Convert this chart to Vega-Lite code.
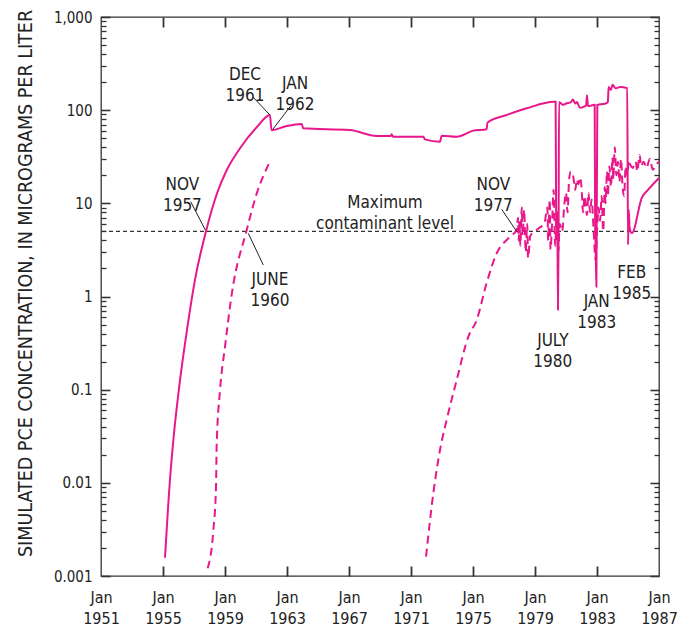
{
  "$schema": "https://vega.github.io/schema/vega-lite/v6.json",
  "autosize": "none",
  "width": 558,
  "height": 559,
  "padding": {"left": 101, "top": 17, "right": 29, "bottom": 51},
  "background": "white",
  "config": {
    "font": "DejaVu Sans Condensed, Roboto, sans-serif",
    "view": {"stroke": "#333", "strokeWidth": 1.3},
    "axis": {"grid": false, "domain": false, "tickColor": "#333", "labelColor": "#222", "titleColor": "#222", "labelFont": "DejaVu Sans Condensed, Roboto, sans-serif", "titleFont": "DejaVu Sans Condensed, Roboto, sans-serif", "tickWidth": 1.5}
  },
  "datasets": {
    "solid": [
      {"t": 1955.13, "c": 0.00157}, {"t": 1955.45, "c": 0.0108}, {"t": 1955.67, "c": 0.029}, {"t": 1956.1, "c": 0.127},
      {"t": 1956.55, "c": 0.44}, {"t": 1957.06, "c": 1.5}, {"t": 1957.77, "c": 5.0}, {"t": 1958.5, "c": 13},
      {"t": 1959.1, "c": 22.5}, {"t": 1959.97, "c": 39}, {"t": 1961.06, "c": 66}, {"t": 1961.9, "c": 89},
      {"t": 1962.0, "c": 61}, {"t": 1962.98, "c": 67.6}, {"t": 1963.95, "c": 71.1}, {"t": 1964.05, "c": 63.8},
      {"t": 1967.06, "c": 61.2}, {"t": 1968.79, "c": 52.9}, {"t": 1969.7, "c": 52.9}, {"t": 1969.75, "c": 55},
      {"t": 1969.85, "c": 52}, {"t": 1971.8, "c": 51.9}, {"t": 1971.9, "c": 48.6}, {"t": 1972.87, "c": 45.9},
      {"t": 1972.98, "c": 53.2}, {"t": 1973.95, "c": 51.9}, {"t": 1975.02, "c": 60.3}, {"t": 1975.88, "c": 62.4},
      {"t": 1975.93, "c": 73.4}, {"t": 1977.17, "c": 88.7}, {"t": 1978.46, "c": 104.7}, {"t": 1980.23, "c": 123},
      {"t": 1980.33, "c": 123}, {"t": 1980.36, "c": 10}, {"t": 1980.4, "c": 4}, {"t": 1980.44, "c": 8},
      {"t": 1980.48, "c": 0.72}, {"t": 1980.52, "c": 4}, {"t": 1980.55, "c": 122}, {"t": 1980.81, "c": 114},
      {"t": 1981.0, "c": 118}, {"t": 1981.3, "c": 121}, {"t": 1981.45, "c": 130}, {"t": 1981.6, "c": 118},
      {"t": 1981.71, "c": 122}, {"t": 1981.9, "c": 106}, {"t": 1982.1, "c": 108}, {"t": 1982.3, "c": 112},
      {"t": 1982.35, "c": 145}, {"t": 1982.42, "c": 111}, {"t": 1982.85, "c": 114}, {"t": 1982.88, "c": 6},
      {"t": 1982.92, "c": 3}, {"t": 1982.96, "c": 1.27}, {"t": 1983.02, "c": 114}, {"t": 1983.5, "c": 117},
      {"t": 1983.7, "c": 122}, {"t": 1983.75, "c": 177}, {"t": 1983.9, "c": 165}, {"t": 1984.0, "c": 187},
      {"t": 1984.2, "c": 172}, {"t": 1984.5, "c": 177}, {"t": 1984.95, "c": 172}, {"t": 1985.0, "c": 3.6},
      {"t": 1985.05, "c": 8.5}, {"t": 1985.1, "c": 5.5}, {"t": 1985.25, "c": 4.8}, {"t": 1985.9, "c": 11.6},
      {"t": 1986.3, "c": 14}, {"t": 1987.0, "c": 18.7}
    ],
    "dashed": [
      {"seg": 1, "t": 1957.88, "c": 0.00121}, {"seg": 1, "t": 1958.25, "c": 0.00312}, {"seg": 1, "t": 1958.42, "c": 0.0091},
      {"seg": 1, "t": 1958.46, "c": 0.0244}, {"seg": 1, "t": 1958.68, "c": 0.0993}, {"seg": 1, "t": 1959.0, "c": 0.289},
      {"seg": 1, "t": 1959.45, "c": 1.1}, {"seg": 1, "t": 1960.4, "c": 5.17}, {"seg": 1, "t": 1961.05, "c": 12.8},
      {"seg": 1, "t": 1961.9, "c": 28},
      {"seg": 2, "t": 1971.97, "c": 0.00161}, {"seg": 2, "t": 1972.44, "c": 0.00773}, {"seg": 2, "t": 1972.76, "c": 0.0176},
      {"seg": 2, "t": 1972.87, "c": 0.0225}, {"seg": 2, "t": 1973.3, "c": 0.0473}, {"seg": 2, "t": 1973.95, "c": 0.127},
      {"seg": 2, "t": 1974.7, "c": 0.371}, {"seg": 2, "t": 1975.24, "c": 0.56}, {"seg": 2, "t": 1975.88, "c": 1.4},
      {"seg": 2, "t": 1976.53, "c": 2.91}, {"seg": 2, "t": 1977.39, "c": 4.39}, {"seg": 2, "t": 1977.82, "c": 5.2},
      {"seg": 2, "t": 1977.9, "c": 7.0}, {"seg": 2, "t": 1977.95, "c": 4.0}, {"seg": 2, "t": 1978.0, "c": 6.5},
      {"seg": 2, "t": 1978.05, "c": 3.5}, {"seg": 2, "t": 1978.15, "c": 9.0}, {"seg": 2, "t": 1978.2, "c": 4.5},
      {"seg": 2, "t": 1978.3, "c": 8.5}, {"seg": 2, "t": 1978.4, "c": 3.0}, {"seg": 2, "t": 1978.5, "c": 6.0},
      {"seg": 2, "t": 1978.55, "c": 2.6}, {"seg": 2, "t": 1978.7, "c": 4.5}, {"seg": 2, "t": 1979.0, "c": 5.0},
      {"seg": 2, "t": 1979.3, "c": 5.5}, {"seg": 2, "t": 1979.6, "c": 6.0}, {"seg": 2, "t": 1979.8, "c": 9.0},
      {"seg": 2, "t": 1979.85, "c": 4.0}, {"seg": 2, "t": 1979.95, "c": 11.0}, {"seg": 2, "t": 1980.0, "c": 3.2},
      {"seg": 2, "t": 1980.1, "c": 6.0}, {"seg": 2, "t": 1980.2, "c": 14.0}, {"seg": 2, "t": 1980.3, "c": 3.5},
      {"seg": 2, "t": 1980.4, "c": 8.0}, {"seg": 2, "t": 1980.5, "c": 3.0}, {"seg": 2, "t": 1980.6, "c": 6.0},
      {"seg": 2, "t": 1980.75, "c": 5.0}, {"seg": 2, "t": 1980.9, "c": 10.0}, {"seg": 2, "t": 1981.0, "c": 13.0},
      {"seg": 2, "t": 1981.1, "c": 8.0}, {"seg": 2, "t": 1981.2, "c": 18.0}, {"seg": 2, "t": 1981.3, "c": 22.0},
      {"seg": 2, "t": 1981.45, "c": 20.0}, {"seg": 2, "t": 1981.6, "c": 14.0}, {"seg": 2, "t": 1981.7, "c": 18.0},
      {"seg": 2, "t": 1981.8, "c": 16.0}, {"seg": 2, "t": 1981.9, "c": 19.0}, {"seg": 2, "t": 1982.0, "c": 15.0},
      {"seg": 2, "t": 1982.1, "c": 8.0}, {"seg": 2, "t": 1982.2, "c": 12.0}, {"seg": 2, "t": 1982.35, "c": 7.5},
      {"seg": 2, "t": 1982.45, "c": 13.0}, {"seg": 2, "t": 1982.55, "c": 8.0}, {"seg": 2, "t": 1982.65, "c": 11.0},
      {"seg": 2, "t": 1982.8, "c": 4.5}, {"seg": 2, "t": 1982.9, "c": 2.5}, {"seg": 2, "t": 1983.0, "c": 5.0},
      {"seg": 2, "t": 1983.1, "c": 9.0}, {"seg": 2, "t": 1983.2, "c": 6.5}, {"seg": 2, "t": 1983.3, "c": 12.0},
      {"seg": 2, "t": 1983.4, "c": 5.0}, {"seg": 2, "t": 1983.5, "c": 15.0}, {"seg": 2, "t": 1983.55, "c": 10.0},
      {"seg": 2, "t": 1983.65, "c": 22.0}, {"seg": 2, "t": 1983.7, "c": 12.0}, {"seg": 2, "t": 1983.8, "c": 25.0},
      {"seg": 2, "t": 1983.9, "c": 15.0}, {"seg": 2, "t": 1984.0, "c": 31.0}, {"seg": 2, "t": 1984.05, "c": 18.0},
      {"seg": 2, "t": 1984.15, "c": 40.0}, {"seg": 2, "t": 1984.25, "c": 20.0}, {"seg": 2, "t": 1984.35, "c": 28.0},
      {"seg": 2, "t": 1984.45, "c": 17.0}, {"seg": 2, "t": 1984.55, "c": 30.0}, {"seg": 2, "t": 1984.65, "c": 15.0},
      {"seg": 2, "t": 1984.75, "c": 12.0}, {"seg": 2, "t": 1984.85, "c": 25.0}, {"seg": 2, "t": 1984.95, "c": 20.0},
      {"seg": 2, "t": 1985.05, "c": 29.0}, {"seg": 2, "t": 1985.15, "c": 26.0}, {"seg": 2, "t": 1985.3, "c": 24.0},
      {"seg": 2, "t": 1985.5, "c": 28.0}, {"seg": 2, "t": 1985.6, "c": 22.0}, {"seg": 2, "t": 1985.75, "c": 33.0},
      {"seg": 2, "t": 1985.85, "c": 25.0}, {"seg": 2, "t": 1986.0, "c": 28.0}, {"seg": 2, "t": 1986.2, "c": 24.0},
      {"seg": 2, "t": 1986.4, "c": 30.0}, {"seg": 2, "t": 1986.6, "c": 23.0}, {"seg": 2, "t": 1986.8, "c": 26.0},
      {"seg": 2, "t": 1987.0, "c": 28.0}
    ],
    "leaders": [
      {"t": 1960.81, "c": 138, "t2": 1961.9, "c2": 88.7},
      {"t": 1963.24, "c": 111, "t2": 1962.08, "c2": 62.2},
      {"t": 1956.79, "c": 10.4, "t2": 1957.73, "c2": 5.17},
      {"t": 1961.47, "c": 2.18, "t2": 1960.5, "c2": 4.77},
      {"t": 1976.85, "c": 8.63, "t2": 1977.82, "c2": 4.97}
    ],
    "labels": [
      {"t": 1960.29, "c": 241, "label": "DEC\n1961"},
      {"t": 1963.52, "c": 193, "label": "JAN\n1962"},
      {"t": 1956.25, "c": 15.7, "label": "NOV\n1957"},
      {"t": 1961.9, "c": 1.52, "label": "JUNE\n1960"},
      {"t": 1969.32, "c": 10.1, "label": "Maximum\ncontaminant level"},
      {"t": 1976.31, "c": 15.7, "label": "NOV\n1977"},
      {"t": 1980.15, "c": 0.337, "label": "JULY\n1980"},
      {"t": 1982.98, "c": 0.863, "label": "JAN\n1983"},
      {"t": 1985.24, "c": 1.77, "label": "FEB\n1985"}
    ]
  },
  "resolve": {"axis": {"x": "independent", "y": "independent"}},
  "layer": [
    {
      "data": {"values": [{"mcl": 5}]},
      "mark": {"type": "rule", "color": "#333", "strokeWidth": 1.1, "strokeDash": [4, 3]},
      "encoding": {
        "y": {"field": "mcl", "type": "quantitative", "scale": {"type": "log", "domain": [0.001, 1000]},
          "axis": {"orient": "right", "values": [0.001, 0.01, 0.1, 1, 10, 100, 1000], "labels": false, "ticks": true, "offset": -9, "tickSize": 9, "tickWidth": 1.6, "title": null}}
      }
    },
    {
      "data": {"name": "solid"},
      "mark": {"type": "line", "color": "#e8178a", "strokeWidth": 2, "interpolate": "monotone"},
      "encoding": {
        "x": {"field": "t", "type": "quantitative", "scale": {"domain": [1951, 1987], "nice": false, "zero": false},
          "axis": {"orient": "bottom", "values": [1951, 1955, 1959, 1963, 1967, 1971, 1975, 1979, 1983, 1987], "ticks": false,
            "labelExpr": "['Jan', '' + datum.value]", "labelFontSize": 16, "labelLineHeight": 21, "labelPadding": 13, "labelBaseline": "top", "labelFlush": false, "title": null}},
        "y": {"field": "c", "type": "quantitative", "scale": {"type": "log", "domain": [0.001, 1000]},
          "axis": {"orient": "left", "values": [0.001, 0.01, 0.1, 1, 10, 100, 1000], "ticks": false,
            "labelExpr": "datum.value >= 1 ? format(datum.value, ',d') : toString(datum.value)", "labelFontSize": 15, "labelPadding": 9,
            "title": "SIMULATED PCE CONCENTRATION, IN MICROGRAMS PER LITER", "titleFontSize": 19.5, "titleFontWeight": "normal",
            "titleX": -76, "titleY": 266, "titleAngle": -90, "titleBaseline": "middle", "titleAlign": "center"}}
      }
    },
    {
      "data": {"name": "dashed"},
      "mark": {"type": "line", "color": "#e8178a", "strokeWidth": 2, "strokeDash": [8, 5], "interpolate": "monotone"},
      "encoding": {
        "x": {"field": "t", "type": "quantitative", "scale": {"domain": [1951, 1987], "nice": false, "zero": false},
          "axis": {"orient": "top", "values": [1955, 1959, 1963, 1967, 1971, 1975, 1979, 1983], "labels": false, "ticks": true, "offset": -10, "tickSize": 10, "tickColor": "#333", "tickWidth": 1.8, "title": null}},
        "y": {"field": "c", "type": "quantitative", "scale": {"type": "log", "domain": [0.001, 1000]},
          "axis": {"orient": "left", "values": [0.001, 0.01, 0.1, 1, 10, 100, 1000], "labels": false, "ticks": true, "offset": -9, "tickSize": 9, "tickWidth": 1.6, "title": null}},
        "detail": {"field": "seg", "type": "nominal"}
      }
    },
    {
      "data": {"name": "leaders"},
      "mark": {"type": "rule", "color": "#222", "strokeWidth": 1},
      "encoding": {
        "x": {"field": "t", "type": "quantitative", "scale": {"domain": [1951, 1987], "nice": false, "zero": false},
          "axis": {"orient": "bottom", "values": [1955, 1959, 1963, 1967, 1971, 1975, 1979, 1983], "labels": false, "ticks": true, "offset": -10, "tickSize": 10, "tickColor": "#333", "tickWidth": 1.8, "title": null}},
        "x2": {"field": "t2"},
        "y": {"field": "c", "type": "quantitative", "scale": {"type": "log", "domain": [0.001, 1000]},
          "axis": {"orient": "left", "values": [0.002, 0.003, 0.004, 0.005, 0.006, 0.007, 0.008, 0.009, 0.02, 0.03, 0.04, 0.05, 0.06, 0.07, 0.08, 0.09, 0.2, 0.3, 0.4, 0.5, 0.6, 0.7, 0.8, 0.9, 2, 3, 4, 5, 6, 7, 8, 9, 20, 30, 40, 50, 60, 70, 80, 90, 200, 300, 400, 500, 600, 700, 800, 900], "labels": false, "ticks": true, "offset": -5, "tickSize": 5, "tickWidth": 1.3, "title": null}},
        "y2": {"field": "c2"}
      }
    },
    {
      "data": {"name": "labels"},
      "mark": {"type": "text", "font": "DejaVu Sans Condensed, Roboto, sans-serif", "fontSize": 17, "lineHeight": 21, "lineBreak": "\n", "align": "center", "baseline": "middle", "color": "#222"},
      "encoding": {
        "x": {"field": "t", "type": "quantitative", "scale": {"domain": [1951, 1987], "nice": false, "zero": false}, "axis": null},
        "y": {"field": "c", "type": "quantitative", "scale": {"type": "log", "domain": [0.001, 1000]},
          "axis": {"orient": "right", "values": [0.002, 0.003, 0.004, 0.005, 0.006, 0.007, 0.008, 0.009, 0.02, 0.03, 0.04, 0.05, 0.06, 0.07, 0.08, 0.09, 0.2, 0.3, 0.4, 0.5, 0.6, 0.7, 0.8, 0.9, 2, 3, 4, 5, 6, 7, 8, 9, 20, 30, 40, 50, 60, 70, 80, 90, 200, 300, 400, 500, 600, 700, 800, 900], "labels": false, "ticks": true, "offset": -5, "tickSize": 5, "tickWidth": 1.3, "title": null}},
        "text": {"field": "label", "type": "nominal"}
      }
    }
  ]
}
